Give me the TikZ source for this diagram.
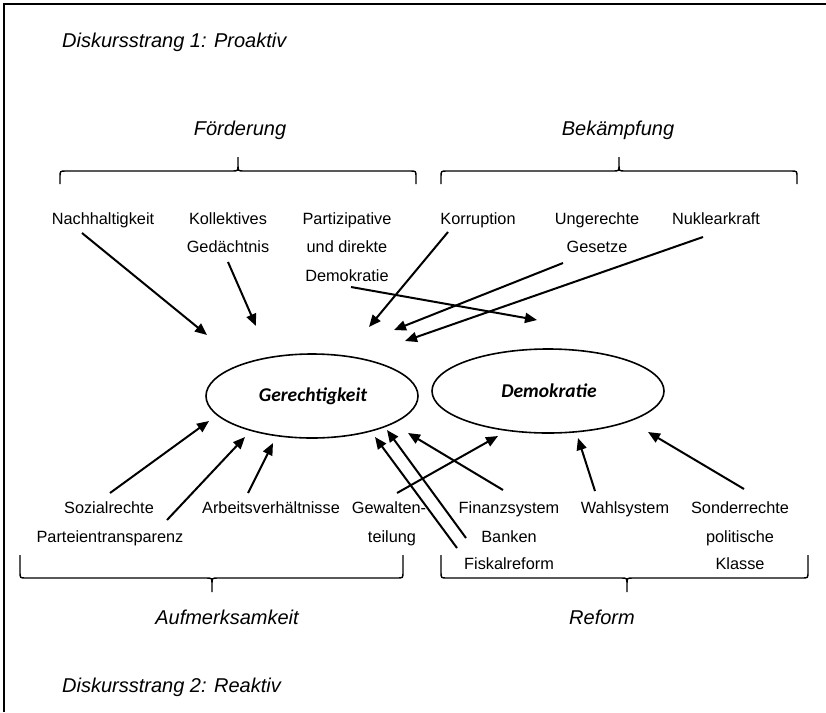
\documentclass[tikz,border=0pt]{standalone}
\usepackage{fontspec}
\setmainfont{Liberation Sans}
\newfontfamily\calfont{Carlito}
\usetikzlibrary{arrows.meta,shapes.geometric}
\begin{document}
\begin{tikzpicture}[x=1pt,y=-1pt,
  item/.style={anchor=base,inner sep=0pt,font=\fontsize{16.3}{19}\selectfont},
  head/.style={anchor=base,inner sep=0pt,font=\fontsize{20}{24}\selectfont\itshape},
  concept/.style={ellipse,draw,line width=1.6pt,inner sep=0pt},
  clabel/.style={inner sep=0pt,font=\fontsize{19.5}{22}\calfont\bfseries\itshape},
  arr/.style={line width=2pt,-{Triangle[length=12pt,width=10pt]}},
  brace/.style={line width=1.4pt}]
\useasboundingbox (0,0) rectangle (826,712);
\fill[white] (0,0) rectangle (826,712);
\draw[line width=2pt] (4,712) -- (4,4) -- (826,4);

% headings
\node[head,anchor=base west] (d1) at (62,47) {Diskursstrang 1: Proaktiv};
\node[head,anchor=base west] (d2) at (62,692) {Diskursstrang 2: Reaktiv};
\node[head] (foe) at (240,135) {Förderung};
\node[head] (bek) at (618,135) {Bekämpfung};
\node[head] (auf) at (227,624) {Aufmerksamkeit};
\node[head] (ref) at (602,624) {Reform};

% braces top
\draw[brace] (60,184) -- (60,177) .. controls (60,171) .. (66,171) -- (232,171) .. controls (238,171) .. (238,165) -- (238,157)
  (238,165) .. controls (238,171) .. (244,171) -- (410,171) .. controls (416,171) .. (416,177) -- (416,184);
\draw[brace] (441,184) -- (441,177) .. controls (441,171) .. (447,171) -- (613,171) .. controls (619,171) .. (619,165) -- (619,157)
  (619,165) .. controls (619,171) .. (625,171) -- (791,171) .. controls (797,171) .. (797,177) -- (797,184);
% braces bottom
\draw[brace] (20,555) -- (20,572) .. controls (20,578) .. (26,578) -- (206,578) .. controls (212,578) .. (212,584) -- (212,592)
  (212,584) .. controls (212,578) .. (218,578) -- (397,578) .. controls (403,578) .. (403,572) -- (403,555);
\draw[brace] (441,555) -- (441,572) .. controls (441,578) .. (447,578) -- (621,578) .. controls (627,578) .. (627,584) -- (627,592)
  (627,584) .. controls (627,578) .. (633,578) -- (802,578) .. controls (808,578) .. (808,572) -- (808,555);

% top items
\node[item] (nach) at (103,224) {Nachhaltigkeit};
\node[item] (koll) at (228,224) {Kollektives};
\node[item] (koll2) at (228,252) {Gedächtnis};
\node[item] (part) at (347,224) {Partizipative};
\node[item] (part2) at (347,252) {und direkte};
\node[item] (part3) at (347,281) {Demokratie};
\node[item] (korr) at (478,224) {Korruption};
\node[item] (ung) at (597,224) {Ungerechte};
\node[item] (ung2) at (597,252) {Gesetze};
\node[item] (nuk) at (716,224) {Nuklearkraft};

% bottom items
\node[item] (soz) at (109,513) {Sozialrechte};
\node[item] (par) at (110,542) {Parteientransparenz};
\node[item] (arb) at (271,513) {Arbeitsverhältnisse};
\node[item] (gew) at (389,513) {Gewalten-};
\node[item] (gew2) at (392,542) {teilung};
\node[item] (fin) at (509,513) {Finanzsystem};
\node[item] (ban) at (509,542) {Banken};
\node[item] (fis) at (509,569) {Fiskalreform};
\node[item] (wah) at (625,513) {Wahlsystem};
\node[item] (son) at (740,513) {Sonderrechte};
\node[item] (son2) at (740,542) {politische};
\node[item] (son3) at (740,569) {Klasse};

% concepts
\node[concept,minimum width=212pt,minimum height=84pt] (ger) at (312,396) {};
\node[clabel] (gerl) at (313,396) {Gerechtigkeit};
\node[concept,minimum width=232pt,minimum height=84pt] (dem) at (548,391) {};
\node[clabel] (deml) at (549,391) {Demokratie};

% arrow ends (free)
\coordinate (s1) at (82,233);  \coordinate (e1) at (207,335);
\coordinate (s2) at (228,262); \coordinate (e2) at (256,326);
\coordinate (s3) at (448,232); \coordinate (e3) at (369,327);
\coordinate (s4) at (351,287); \coordinate (e4) at (537,320);
\coordinate (s5) at (563,263); \coordinate (e5) at (394,330);
\coordinate (s6) at (703,237); \coordinate (e6) at (405,341);

\coordinate (b1) at (110,493); \coordinate (f1) at (209,421);
\coordinate (b2) at (167,520); \coordinate (f2) at (245,437);
\coordinate (b3) at (248,493); \coordinate (f3) at (273,443);
\coordinate (b4) at (397,493); \coordinate (f4) at (498,436);
\coordinate (b5) at (457,548); \coordinate (f5) at (375,437);
\coordinate (b6) at (466,538); \coordinate (f6) at (387,430);
\coordinate (b7) at (503,490); \coordinate (f7) at (408,433);
\coordinate (b8) at (595,491); \coordinate (f8) at (578,438);
\coordinate (b9) at (744,489); \coordinate (f9) at (648,432);

\foreach \s/\e in {s1/e1,s2/e2,s3/e3,s4/e4,s5/e5,s6/e6,b1/f1,b2/f2,b3/f3,b4/f4,b5/f5,b6/f6,b7/f7,b8/f8,b9/f9}
  \draw[arr] (\s) -- (\e);
\end{tikzpicture}
\end{document}
